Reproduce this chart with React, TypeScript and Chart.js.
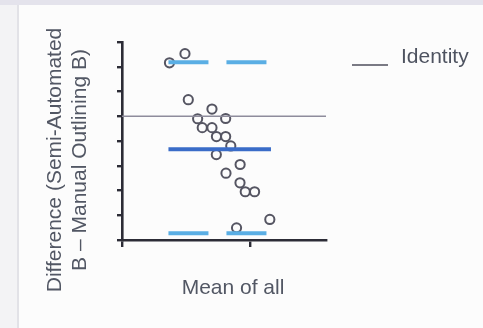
import React, { useEffect, useRef } from "react";
import { Chart, registerables } from "chart.js";

Chart.register(...registerables);

// Data
const meanX: number[] = [0.492, 0.371, 0.518, 0.703, 0.591, 0.81, 0.627, 0.703, 0.738, 0.81, 0.85, 0.737, 0.923, 0.8125, 0.922, 0.963, 1.036, 1.155, 0.895];
const diffY: number[] = [7.53, 7.16, 5.67, 5.29, 4.9, 4.91, 4.54, 4.54, 4.18, 4.18, 3.8, 3.45, 3.05, 2.7, 2.31, 1.95, 1.95, 0.83, 0.49];
const identityValue = 5;
const meanBias = 3.67;
const upperLoA = 7.18;
const lowerLoA = 0.275;
const biasLineX: number[] = [0.363, 1.164];
const loaLineX: number[] = [0.363, 1.133];
const xTicks: number[] = [0, 1];
const yRange: number[] = [0, 8];
const xRange: number[] = [0, 1.594];

const yTitleLines: string[] = ["Difference (Semi-Automated", "B \u2013 Manual Outlining B)"];
const xTitle = "Mean of all";
const legendLabel = "Identity";

const FONT = '21px "Liberation Sans", Arial, Helvetica, sans-serif';
const TEXT_COLOR = "#525764";

const textPlugin = {
  id: "textPlugin",
  afterDraw(chart: any) {
    const ctx = chart.ctx;
    ctx.save();
    ctx.font = FONT;
    ctx.fillStyle = TEXT_COLOR;
    // y title
    ctx.save();
    ctx.translate(55, 160);
    ctx.rotate(-Math.PI / 2);
    ctx.textAlign = "center";
    ctx.textBaseline = "middle";
    ctx.fillText(yTitleLines[0], 0, 0);
    ctx.fillText(yTitleLines[1], 0, 25);
    ctx.restore();
    // x title
    ctx.textAlign = "center";
    ctx.textBaseline = "middle";
    ctx.fillText(xTitle, 233, 288);
    // legend
    ctx.strokeStyle = "#7a7a84";
    ctx.lineWidth = 2;
    ctx.beginPath();
    ctx.moveTo(352, 65);
    ctx.lineTo(388, 65);
    ctx.stroke();
    ctx.fillStyle = "#4e5360";
    ctx.textAlign = "left";
    ctx.textBaseline = "alphabetic";
    ctx.fillText(legendLabel, 401, 63);
    ctx.restore();
  },
};

export default function App() {
  const ref = useRef<HTMLCanvasElement | null>(null);

  useEffect(() => {
    if (!ref.current) return;
    const chart = new Chart(ref.current, {
      type: "scatter",
      data: {
        datasets: [
          {
            label: "Points",
            data: meanX.map((x, i) => ({ x, y: diffY[i] })),
            pointRadius: 4.6,
            pointBorderWidth: 2,
            pointBorderColor: "#555562",
            pointBackgroundColor: "rgba(255,255,255,0)",
            showLine: false,
            order: 5,
          },
          {
            label: "Identity",
            data: [
              { x: xRange[0], y: identityValue },
              { x: xRange[1], y: identityValue },
            ],
            showLine: true,
            borderColor: "#8e8c9c",
            borderWidth: 1.5,
            pointRadius: 0,
            order: 4,
          },
          {
            label: "Upper LoA",
            data: loaLineX.map((x) => ({ x, y: upperLoA })),
            showLine: true,
            borderColor: "#5aaee4",
            borderWidth: 4,
            borderDash: [40, 18],
            pointRadius: 0,
            order: 3,
          },
          {
            label: "Lower LoA",
            data: loaLineX.map((x) => ({ x, y: lowerLoA })),
            showLine: true,
            borderColor: "#5aaee4",
            borderWidth: 4,
            borderDash: [40, 18],
            pointRadius: 0,
            order: 3,
          },
          {
            label: "Bias",
            data: biasLineX.map((x) => ({ x, y: meanBias })),
            showLine: true,
            borderColor: "#3a6cc8",
            borderWidth: 4,
            pointRadius: 0,
            order: 2,
          },
        ],
      },
      options: {
        animation: false,
        responsive: false,
        maintainAspectRatio: false,
        layout: { padding: { left: 117, right: 157, top: 42, bottom: 81 } },
        plugins: {
          legend: { display: false },
          tooltip: { enabled: false },
          title: { display: false },
        },
        scales: {
          x: {
            type: "linear",
            min: xRange[0],
            max: xRange[1],
            afterBuildTicks: (scale: any) => {
              scale.ticks = xTicks.map((v) => ({ value: v }));
            },
            ticks: { display: false },
            grid: {
              drawOnChartArea: false,
              drawTicks: true,
              tickLength: 7,
              color: "#2c2c36",
              lineWidth: 2.4,
            },
            border: { display: true, color: "#2c2c36", width: 2.6 },
          },
          y: {
            type: "linear",
            min: yRange[0],
            max: yRange[1],
            ticks: { display: false, stepSize: 1 },
            grid: {
              drawOnChartArea: false,
              drawTicks: true,
              tickLength: 5,
              color: "#2c2c36",
              lineWidth: 2.4,
            },
            border: { display: true, color: "#2c2c36", width: 2.6 },
          },
        },
      },
      plugins: [textPlugin],
    });
    return () => chart.destroy();
  }, []);

  return (
    <div style={{ position: "fixed", left: 0, top: 0, width: 483, height: 328, background: "#fcfcfc", overflow: "hidden" }}>
      <div style={{ position: "absolute", left: 0, top: 0, width: 18, height: 328, background: "#f3f3f5" }} />
      <div style={{ position: "absolute", left: 17, top: 0, width: 1.5, height: 328, background: "#e2e2e7" }} />
      <div style={{ position: "absolute", left: 0, top: 0, width: 483, height: 5, background: "#e4e3ec" }} />
      <canvas ref={ref} width={483} height={328} style={{ position: "absolute", left: 0, top: 0, width: 483, height: 328 }} />
    </div>
  );
}
